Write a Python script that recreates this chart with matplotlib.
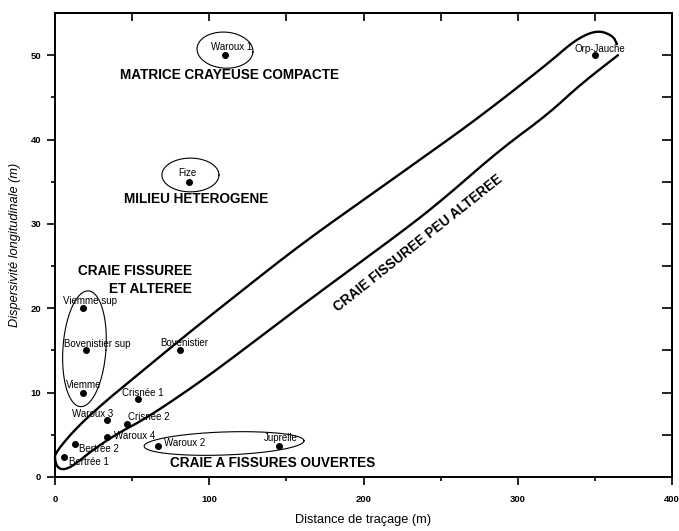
import numpy as np
import matplotlib
matplotlib.use("Agg")
import matplotlib.pyplot as plt

plt.rcParams['font.family'] = ['Liberation Sans', 'DejaVu Sans']

# Tracer tests: travel distance (m) and longitudinal dispersivity (m)
sites = ["Waroux 1", "Fize", "Orp-Jauche", "Viemme sup", "Bovenistier sup", "Viemme",
         "Bovenistier", "Crisnée 1", "Crisnée 2", "Waroux 3", "Waroux 4",
         "Bertrée 2", "Bertrée 1", "Waroux 2", "Juprelle"]
distance = [110, 87, 350, 18, 20, 18, 81, 54, 47, 34, 34, 13, 6, 67, 145]
dispersivity = [50, 35, 50, 20, 15, 10, 15, 9.3, 6.3, 6.8, 4.8, 3.9, 2.4, 3.7, 3.7]

# label placement relative to each point (pixels)
label_dx = [7, -2, 5, 7, 11, 1, 4, 5, 21, -15, 27, 24, 25, 26, 2]
label_dy = [8, 9, 6, 7, 6, 8, 7, 6, 7, 6, 1, -5, -5, 3, 8]

# Outline of the weakly weathered fissured chalk domain
env_upper_x = [364.3, 361.8, 351.4, 337.1, 320.9, 275.5, 236.6, 204.2, 158.8, 113.5,
               81.0, 55.1, 33.7, 14.3, 0.0]
env_upper_y = [51.3, 52.3, 53.0, 51.8, 49.2, 42.7, 37.6, 33.4, 27.5, 20.98,
               16.24, 12.33, 9.13, 5.93, 2.85]
env_lower_x = [0.0, 1.3, 5.2, 11.7, 22.7, 38.9, 59.6, 94.0, 121.9, 158.8, 223.7,
               250.9, 288.5, 319.0, 340.4, 365.0]
env_lower_y = [2.0, 1.19, 0.83, 1.3, 2.96, 5.0, 7.0, 11.26, 15.05, 20.2, 28.9,
               32.8, 38.8, 42.9, 46.5, 50.0]

# Grouping ellipses: centre x, centre y, width, height (data units), tilt (deg)
ell_cx = [110.2, 87.8, 19.1, 109.6]
ell_cy = [50.6, 35.8, 15.2, 3.97]
ell_w = [36.3, 37.0, 27.9, 103.7]
ell_h = [4.27, 4.0, 13.75, 2.73]
ell_tilt = [-4, 0, -4, 2]

# Domain names
region_text = ["MATRICE CRAYEUSE COMPACTE", "MILIEU HETEROGENE",
               "CRAIE FISSUREE\nET ALTEREE", "CRAIE A FISSURES OUVERTES",
               "CRAIE FISSUREE PEU ALTEREE"]
region_x = [113.1, 91.4, 88.8, 141.3, 235.3]
region_y = [47.65, 32.95, 23.35, 1.66, 27.7]
region_rot = [0, 0, 0, 0, 38.5]
region_ha = ["center", "center", "right", "center", "center"]

W, H = 679, 531
fig = plt.figure(figsize=(W / 100, H / 100), dpi=100)
ax = fig.add_axes([55 / W, 54 / H, 617 / W, 464 / H])
ax.set_xlim(0, 400)
ax.set_ylim(0, 55)

for s in ax.spines.values():
    s.set_linewidth(1.4)

ax.set_xticks([0, 100, 200, 300, 400])
ax.set_xticks([50, 150, 250, 350], minor=True)
ax.set_yticks([0, 10, 20, 30, 40, 50])
ax.set_yticks([5, 15, 25, 35, 45], minor=True)
ax.tick_params(which='major', direction='out', length=6, width=1.2,
               labelsize=6.8, pad=4)
ax.tick_params(which='minor', direction='out', length=3, width=1.2)
for lab in ax.get_xticklabels() + ax.get_yticklabels():
    lab.set_fontweight('bold')
ax.tick_params(axis='x', pad=7)

top = ax.secondary_xaxis('top')
top.set_xticks([50, 100, 150, 200, 250, 300, 350])
top.tick_params(direction='in', length=6, width=1.2, labeltop=False)
right = ax.secondary_yaxis('right')
right.set_yticks([5, 10, 15, 20, 25, 30, 35, 40, 45, 50])
right.tick_params(direction='in', length=7, width=1.2, labelright=False)
for sec in (top, right):
    for s in sec.spines.values():
        s.set_linewidth(1.4)

ax.set_xlabel("Distance de traçage (m)", fontsize=9.2, labelpad=7)
ax.set_ylabel("Dispersivité longitudinale (m)", fontsize=9.2, style='italic',
              labelpad=7)


def chaikin(x, y, n=3):
    p = np.column_stack([x, y]).astype(float)
    for _ in range(n):
        q = 0.75 * p[:-1] + 0.25 * p[1:]
        r = 0.25 * p[:-1] + 0.75 * p[1:]
        mid = np.empty((2 * len(q), 2))
        mid[0::2] = q
        mid[1::2] = r
        p = np.vstack([p[:1], mid, p[-1:]])
    return p[:, 0], p[:, 1]


ex, ey = chaikin(env_upper_x + env_lower_x, env_upper_y + env_lower_y)
ax.plot(ex, ey, color='black', lw=1.7, solid_capstyle='round',
        solid_joinstyle='round', clip_on=False)

# ellipses drawn with tilt in screen space
sx = 617 / 400.0
sy = 464 / 55.0
t = np.linspace(0, 2 * np.pi, 200)
for cx, cy, w, h, a in zip(ell_cx, ell_cy, ell_w, ell_h, ell_tilt):
    u = 0.5 * w * sx * np.cos(t)
    v = 0.5 * h * sy * np.sin(t)
    th = np.deg2rad(a)
    du = u * np.cos(th) - v * np.sin(th)
    dv = u * np.sin(th) + v * np.cos(th)
    ax.plot(cx + du / sx, cy + dv / sy, color='black', lw=0.8)

ax.scatter(distance, dispersivity, s=16, color='black', zorder=5)

for name, x, y, dx, dy in zip(sites, distance, dispersivity, label_dx, label_dy):
    ax.annotate(name, (x, y), xytext=(dx, dy), textcoords='offset pixels',
                ha='center', va='center', fontsize=7)

for txt, x, y, rot, ha in zip(region_text, region_x, region_y, region_rot, region_ha):
    ax.text(x, y, txt, ha=ha, va='center', rotation=rot, rotation_mode='anchor',
            fontsize=9.8, fontweight='bold', linespacing=1.3,
            multialignment=ha)

fig.savefig("out.png", dpi=100)
